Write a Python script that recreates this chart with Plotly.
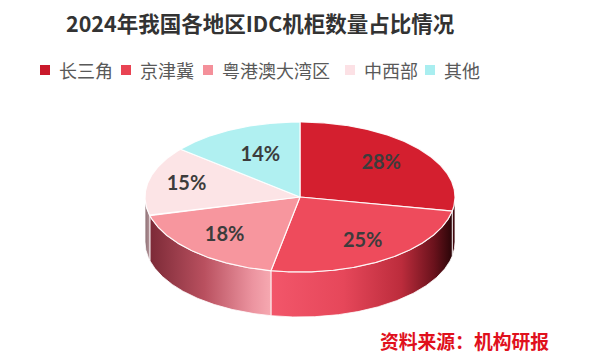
import numpy as np
import plotly.graph_objects as go

# ---- data ----
regions = ["长三角", "京津冀", "粤港澳大湾区", "中西部", "其他"]
shares = [28, 25, 18, 15, 14]
labels = ["28%", "25%", "18%", "15%", "14%"]

# ---- style ----
top_colors = ["#D41F2F", "#EE4B5C", "#F7969E", "#FCE4E6", "#B0F0F1"]
legend_colors = ["#C9192B", "#E94353", "#F4909A", "#FCE1E5", "#A9EEF0"]
side_scales = [
    [[0, "#5A0E16"], [1, "#2E0407"]],
    [[0, "#F2566A"], [0.4, "#E6475A"], [0.72, "#BC2C3C"], [0.9, "#6A121C"], [1, "#2A0508"]],
    [[0, "#7C2A37"], [0.45, "#B9505F"], [0.85, "#EC94A0"], [1, "#F6A9B1"]],
    [[0, "#8A6E73"], [1, "#B8979C"]],
    [[0, "#6FA5A6"], [1, "#8FC8C9"]],
]
label_radius = [0.68, 0.72, 0.71, 0.75, 0.6]

W, H = 600, 360
CX, CY, RX = 300, 197, 155        # pixel centre / horizontal radius
TILT = 75 / 155                   # vertical squash of the top face
DEPTH = 45 / 155                  # thickness of the disc

fig = go.Figure()

total = sum(shares)
bounds = np.concatenate([[0], np.cumsum(shares)]) / total * 360.0


def pt(theta_deg, r=1.0, dz=0.0):
    t = np.radians(theta_deg)
    return r * np.sin(t), TILT * r * np.cos(t) - dz


# side walls (front half only: 90..270 deg clockwise from top)
for i in range(len(shares)):
    a, b = max(bounds[i], 90.0), min(bounds[i + 1], 270.0)
    if b <= a:
        continue
    th = np.linspace(a, b, max(int((b - a) * 2), 2))
    xt, yt = pt(th)
    xb, yb = pt(th[::-1], dz=DEPTH)
    xs = np.concatenate([xt, xb, xt[:1]])
    ys = np.concatenate([yt, yb, yt[:1]])
    fig.add_trace(go.Scatter(
        x=xs, y=ys, mode="lines", fill="toself",
        line=dict(color="rgba(255,255,255,0.8)", width=1),
        fillgradient=dict(type="horizontal", colorscale=side_scales[i]),
        hoverinfo="skip", showlegend=False))

# top faces
for i in range(len(shares)):
    a, b = bounds[i], bounds[i + 1]
    th = np.linspace(a, b, max(int((b - a) * 2), 2))
    x, y = pt(th)
    xs = np.concatenate([[0], x, [0]])
    ys = np.concatenate([[0], y, [0]])
    fig.add_trace(go.Scatter(
        x=xs, y=ys, mode="lines", fill="toself", fillcolor=top_colors[i],
        line=dict(color="rgba(255,255,255,0.9)", width=1.2),
        name=regions[i], hoverinfo="name", showlegend=False))

# percentage labels
mids = (bounds[:-1] + bounds[1:]) / 2
lx, ly = [], []
for m, r in zip(mids, label_radius):
    x, y = pt(m, r=r)
    lx.append(x)
    ly.append(y)
fig.add_trace(go.Scatter(
    x=lx, y=ly, mode="text", text=labels,
    textfont=dict(family="Lato", size=20, color="#3C3C3C", weight="bold"),
    hoverinfo="skip", showlegend=False))

# legend (manual, to match the reference spacing)
legend_x = [40, 121, 203, 345, 425]
legend_y = 70
for i, name in enumerate(regions):
    x0 = legend_x[i]
    fig.add_shape(type="rect", xref="paper", yref="paper",
                  x0=x0 / W, x1=(x0 + 10) / W,
                  y0=1 - (legend_y + 5) / H, y1=1 - (legend_y - 5) / H,
                  fillcolor=legend_colors[i], line=dict(width=0))
    fig.add_annotation(text=name, xref="paper", yref="paper",
                       x=(x0 + 17) / W, y=1 - legend_y / H,
                       xanchor="left", yanchor="middle", showarrow=False,
                       font=dict(family="Noto Sans CJK SC", size=18, color="#595959"))

# title
fig.add_annotation(text="<b>2024年我国各地区IDC机柜数量占比情况</b>",
                   xref="paper", yref="paper", x=260 / W, y=1 - 22 / H,
                   xanchor="center", yanchor="middle", showarrow=False,
                   font=dict(family="Noto Sans CJK SC", size=21.5, color="#333333"))

# source
fig.add_annotation(text="<b>资料来源：机构研报</b>",
                   xref="paper", yref="paper", x=378 / W, y=1 - 340 / H,
                   xanchor="left", yanchor="middle", showarrow=False,
                   font=dict(family="Noto Sans CJK SC", size=18.8, color="#E0101C"))

fig.update_layout(
    width=W, height=H, margin=dict(l=0, r=0, t=0, b=0),
    paper_bgcolor="#FFFFFF", plot_bgcolor="#FFFFFF",
    xaxis=dict(range=[-CX / RX, (W - CX) / RX], visible=False, fixedrange=True),
    yaxis=dict(range=[-(H - CY) / RX, CY / RX], visible=False, fixedrange=True),
    showlegend=False,
)

fig.write_html("out.html",
               config={"displayModeBar": False},
               post_script="document.body.style.margin='0';document.body.style.overflow='hidden';")
